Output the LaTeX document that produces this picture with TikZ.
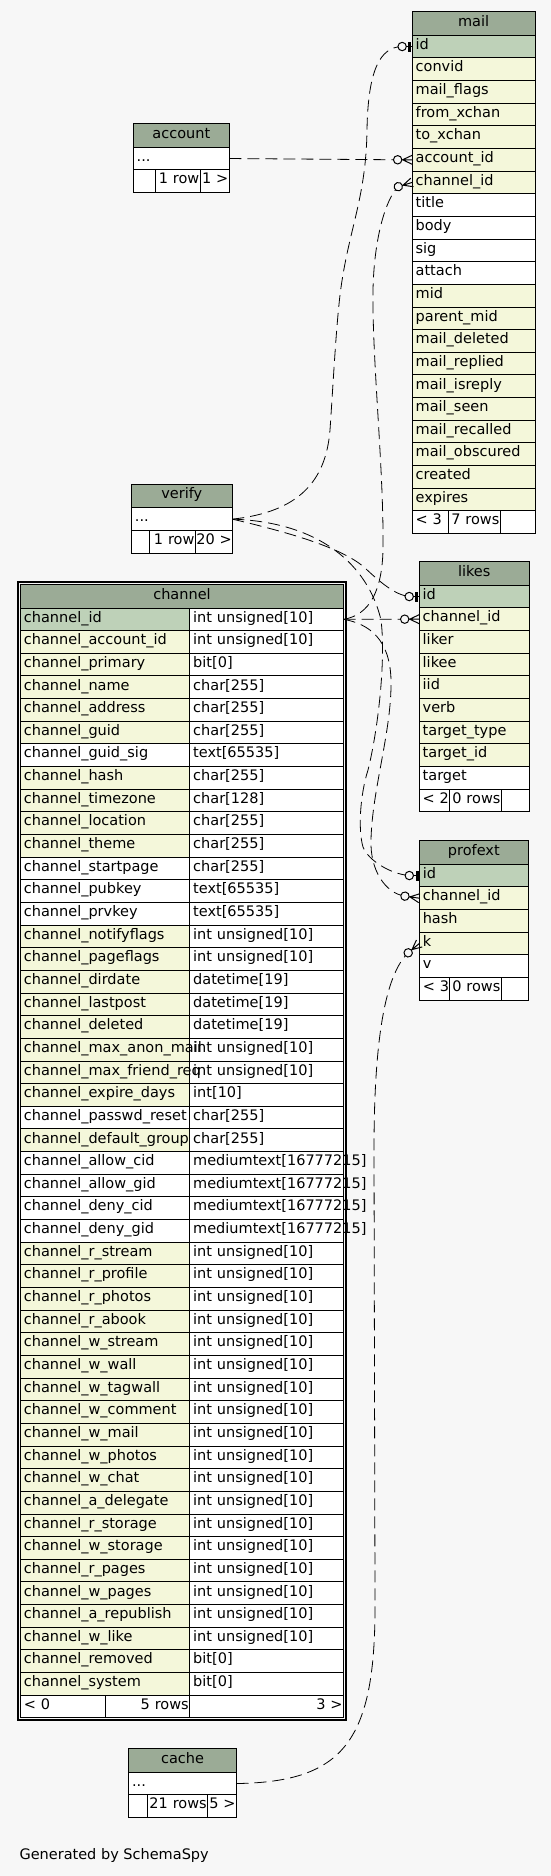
\documentclass[tikz,border=0pt]{standalone}
\usepackage{fontspec}
\setmainfont{DejaVu Sans}
\usetikzlibrary{positioning}
\definecolor{bgc}{HTML}{F7F7F7}
\definecolor{headc}{HTML}{9BAB96}
\definecolor{pkc}{HTML}{BED1B8}
\definecolor{idxc}{HTML}{F4F7DA}
\hyphenpenalty=10000
\exhyphenpenalty=10000
\tikzset{
  cell/.style={draw, fill=white, line width=1pt, outer sep=0pt, inner xsep=3.5pt, inner ysep=0pt,
    minimum height=22.65pt, text height=11pt, text depth=5.5pt, text width=#1, align=left},
  rcell/.style={cell=#1, align=right, inner xsep=1pt},
  head/.style={draw, fill=headc, line width=1pt, outer sep=0pt, inner sep=0pt,
    minimum width=#1, minimum height=23.5pt, text height=11pt, text depth=5.5pt, anchor=north},
  pk/.style={fill=pkc}, ix/.style={fill=idxc}, pl/.style={fill=white},
  link/.style={line width=0.8pt, dash pattern=on 12pt off 6pt},
  pics/crowodot/.style={code={
    \draw[line width=1pt] (-14.5pt,0pt) -- (0pt,0pt) (0pt,4.5pt) -- (-9.5pt,0pt) -- (0pt,-4.5pt);
    \draw[line width=1pt, fill=bgc] (-14.5pt,0pt) circle (4.2pt);}},
  pics/teeodot/.style={code={
    \draw[line width=1pt] (-10pt,0pt) -- (0pt,0pt);
    \fill (-3.8pt,-5pt) rectangle (-0.8pt,5pt);
    \draw[line width=1pt, fill=bgc] (-10pt,0pt) circle (4.2pt);}}
}
\begin{document}
\begin{tikzpicture}[x=1pt, y=-1pt, font=\fontsize{14.5pt}{17pt}\selectfont]
\fill[bgc] (0,0) rectangle (551,1876);
\useasboundingbox (0,0) rectangle (551,1876);

% mail
\node[head=122.9pt] (mail0) at (473.65,11.7) {mail};
\foreach \nm/\st [count=\i, remember=\i as \j (initially 0)] in {id/pk, convid/ix, mail\_flags/ix,
    from\_xchan/ix, to\_xchan/ix, account\_id/ix, channel\_id/ix, title/pl, body/pl, sig/pl, attach/pl,
    mid/ix, parent\_mid/ix, mail\_deleted/ix, mail\_replied/ix, mail\_isreply/ix, mail\_seen/ix,
    mail\_recalled/ix, mail\_obscured/ix, created/ix, expires/ix}
  \node[cell=116pt, \st, below=0pt of mail\j] (mail\i) {\nm};
\node[cell=29.5pt, below right=0pt and 0pt of mail21.south west] (mailf1) {\mbox{< 3}};
\node[rcell=49.7pt, right=0pt of mailf1] (mailf2) {\mbox{7 rows}};
\node[rcell=32.7pt, right=0pt of mailf2] (mailf3) {};

% account
\node[head=96.2pt] (acct0) at (181.3,123.7) {account};
\node[cell=89.2pt, below=0pt of acct0] (acct1) {...};
\node[cell=15.1pt, below right=0pt and 0pt of acct1.south west] (acctf1) {};
\node[rcell=43pt, right=0pt of acctf1] (acctf2) {\mbox{1 row}};
\node[rcell=27.1pt, right=0pt of acctf2] (acctf3) {\mbox{1 >}};

% verify
\node[head=100.9pt] (ver0) at (181.85,484.3) {verify};
\node[cell=93.9pt, below=0pt of ver0] (ver1) {...};
\node[cell=11.3pt, below right=0pt and 0pt of ver1.south west] (verf1) {};
\node[rcell=43.7pt, right=0pt of verf1] (verf2) {\mbox{1 row}};
\node[rcell=34.9pt, right=0pt of verf2] (verf3) {\mbox{20 >}};

% likes
\node[head=110pt] (likes0) at (474.2,561.7) {likes};
\foreach \nm/\st [count=\i, remember=\i as \j (initially 0)] in {id/pk, channel\_id/ix, liker/ix,
    likee/ix, iid/ix, verb/ix, target\_type/ix, target\_id/ix, target/pl}
  \node[cell=103pt, \st, below=0pt of likes\j] (likes\i) {\nm};
\node[cell=23.6pt, below right=0pt and 0pt of likes9.south west] (likesf1) {\mbox{< 2}};
\node[rcell=49.6pt, right=0pt of likesf1] (likesf2) {\mbox{0 rows}};
\node[rcell=25.8pt, right=0pt of likesf2] (likesf3) {};

% profext
\node[head=109pt] (prof0) at (473.8,840.7) {profext};
\foreach \nm/\st [count=\i, remember=\i as \j (initially 0)] in {id/pk, channel\_id/ix, hash/ix, k/ix, v/pl}
  \node[cell=102pt, \st, below=0pt of prof\j] (prof\i) {\nm};
\node[cell=23.4pt, below right=0pt and 0pt of prof5.south west] (proff1) {\mbox{< 3}};
\node[rcell=49.6pt, right=0pt of proff1] (proff2) {\mbox{0 rows}};
\node[rcell=25pt, right=0pt of proff2] (proff3) {};

% channel
\node[head=323.2pt] (chan) at (182,584.5) {channel};
\node[cell=146.9pt, below left=0pt and 0pt of chan.south east] (chant1) {int unsigned[10]};
\node[cell=162.3pt, pk, left=0pt of chant1] (chann1) {channel\_id};
\foreach \nm/\ty/\st [count=\i from 2, remember=\i as \j (initially 1)] in {
    channel\_account\_id/int unsigned[10]/ix, channel\_primary/bit[0]/ix, channel\_name/char[255]/ix,
    channel\_address/char[255]/ix, channel\_guid/char[255]/ix, channel\_guid\_sig/text[65535]/pl,
    channel\_hash/char[255]/ix, channel\_timezone/char[128]/ix, channel\_location/char[255]/ix,
    channel\_theme/char[255]/ix, channel\_startpage/char[255]/pl, channel\_pubkey/text[65535]/pl,
    channel\_prvkey/text[65535]/pl, channel\_notifyflags/int unsigned[10]/ix,
    channel\_pageflags/int unsigned[10]/ix, channel\_dirdate/datetime[19]/ix,
    channel\_lastpost/datetime[19]/ix, channel\_deleted/datetime[19]/ix,
    channel\_max\_anon\_mail/int unsigned[10]/ix, channel\_max\_friend\_req/int unsigned[10]/ix,
    channel\_expire\_days/int[10]/ix, channel\_passwd\_reset/char[255]/pl,
    channel\_default\_group/char[255]/ix, channel\_allow\_cid/mediumtext[16777215]/pl,
    channel\_allow\_gid/mediumtext[16777215]/pl, channel\_deny\_cid/mediumtext[16777215]/pl,
    channel\_deny\_gid/mediumtext[16777215]/pl, channel\_r\_stream/int unsigned[10]/ix,
    channel\_r\_profile/int unsigned[10]/ix, channel\_r\_photos/int unsigned[10]/ix,
    channel\_r\_abook/int unsigned[10]/ix, channel\_w\_stream/int unsigned[10]/ix,
    channel\_w\_wall/int unsigned[10]/ix, channel\_w\_tagwall/int unsigned[10]/ix,
    channel\_w\_comment/int unsigned[10]/ix, channel\_w\_mail/int unsigned[10]/ix,
    channel\_w\_photos/int unsigned[10]/ix, channel\_w\_chat/int unsigned[10]/ix,
    channel\_a\_delegate/int unsigned[10]/ix, channel\_r\_storage/int unsigned[10]/ix,
    channel\_w\_storage/int unsigned[10]/ix, channel\_r\_pages/int unsigned[10]/ix,
    channel\_w\_pages/int unsigned[10]/ix, channel\_a\_republish/int unsigned[10]/ix,
    channel\_w\_like/int unsigned[10]/ix, channel\_removed/bit[0]/ix, channel\_system/bit[0]/ix}
  {\node[cell=146.9pt, below=0pt of chant\j] (chant\i) {\ty};
   \node[cell=162.3pt, \st, left=0pt of chant\i] (chann\i) {\nm};}
\node[cell=78pt, below right=0pt and 0pt of chann48.south west] (chanf1) {\mbox{< 0}};
\node[rcell=82.3pt, right=0pt of chanf1] (chanf2) {\mbox{5 rows}};
\node[rcell=151.9pt, right=0pt of chanf2] (chanf3) {\mbox{3 >}};
\draw[line width=2pt] ([shift={(-2.6,-2.6)}]chan.north west) rectangle ([shift={(2.6,2.6)}]chanf3.south east);

% cache
\node[head=107.9pt] (cach0) at (182.55,1748.7) {cache};
\node[cell=100.9pt, below=0pt of cach0] (cach1) {...};
\node[cell=11.6pt, below right=0pt and 0pt of cach1.south west] (cachf1) {};
\node[rcell=58.5pt, right=0pt of cachf1] (cachf2) {\mbox{21 rows}};
\node[rcell=26.8pt, right=0pt of cachf2] (cachf3) {\mbox{5 >}};

% relationships
\draw[link] (acct1.east) -- ([xshift=-14.5pt]mail6.west);
\draw[link] (ver1.east) .. controls (300,512) and (326,480) .. (330,430)
  .. controls (334,370) and (336,330) .. (340,295) .. controls (348,230) and (366,200) .. (367,130)
  .. controls (368,70) and (380,47) .. ([xshift=-10pt]mail1.west);
\draw[link] (chant1.east) .. controls (370,615) and (382,590) .. (383,550)
  .. controls (384,470) and (372,360) .. (373,290)
  .. controls (374,240) and (385,200) .. ([shift={(-14,4.3)}]mail7.west);
\draw[link] (chant1.east) -- ([xshift=-14.5pt]likes2.west);
\draw[link] (ver1.east) .. controls (300,535) and (345,550) .. (365,568)
  .. controls (380,582) and (395,595) .. ([xshift=-10pt]likes1.west);
\draw[link] (ver1.east) .. controls (320,522) and (368,565) .. (381,620)
  .. controls (386,660) and (378,730) .. (368,770) .. controls (360,795) and (358,830) .. (363,847)
  .. controls (368,860) and (390,874) .. ([xshift=-10pt]prof1.west);
\draw[link] (chant1.east) .. controls (370,624) and (390,640) .. (391,680)
  .. controls (392,730) and (372,790) .. (371,840)
  .. controls (370,870) and (385,893) .. ([shift={(-14.3,-2)}]prof2.west);
\draw[link] (cach1.east) .. controls (345,1782) and (376,1740) .. (375,1600) -- (374,1150)
  .. controls (374,1040) and (385,975) .. ([shift={(-11.1,9.3)}]prof4.west);

\pic at (mail1.west) {teeodot};
\pic at (mail6.west) {crowodot};
\pic[rotate=17] at (mail7.west) {crowodot};
\pic at (likes1.west) {teeodot};
\pic at (likes2.west) {crowodot};
\pic at (prof1.west) {teeodot};
\pic[rotate=-8] at (prof2.west) {crowodot};
\pic[rotate=40] at (prof4.west) {crowodot};

\node[anchor=base west] (gen) at (16,1859) {Generated by SchemaSpy};
\end{tikzpicture}
\end{document}
